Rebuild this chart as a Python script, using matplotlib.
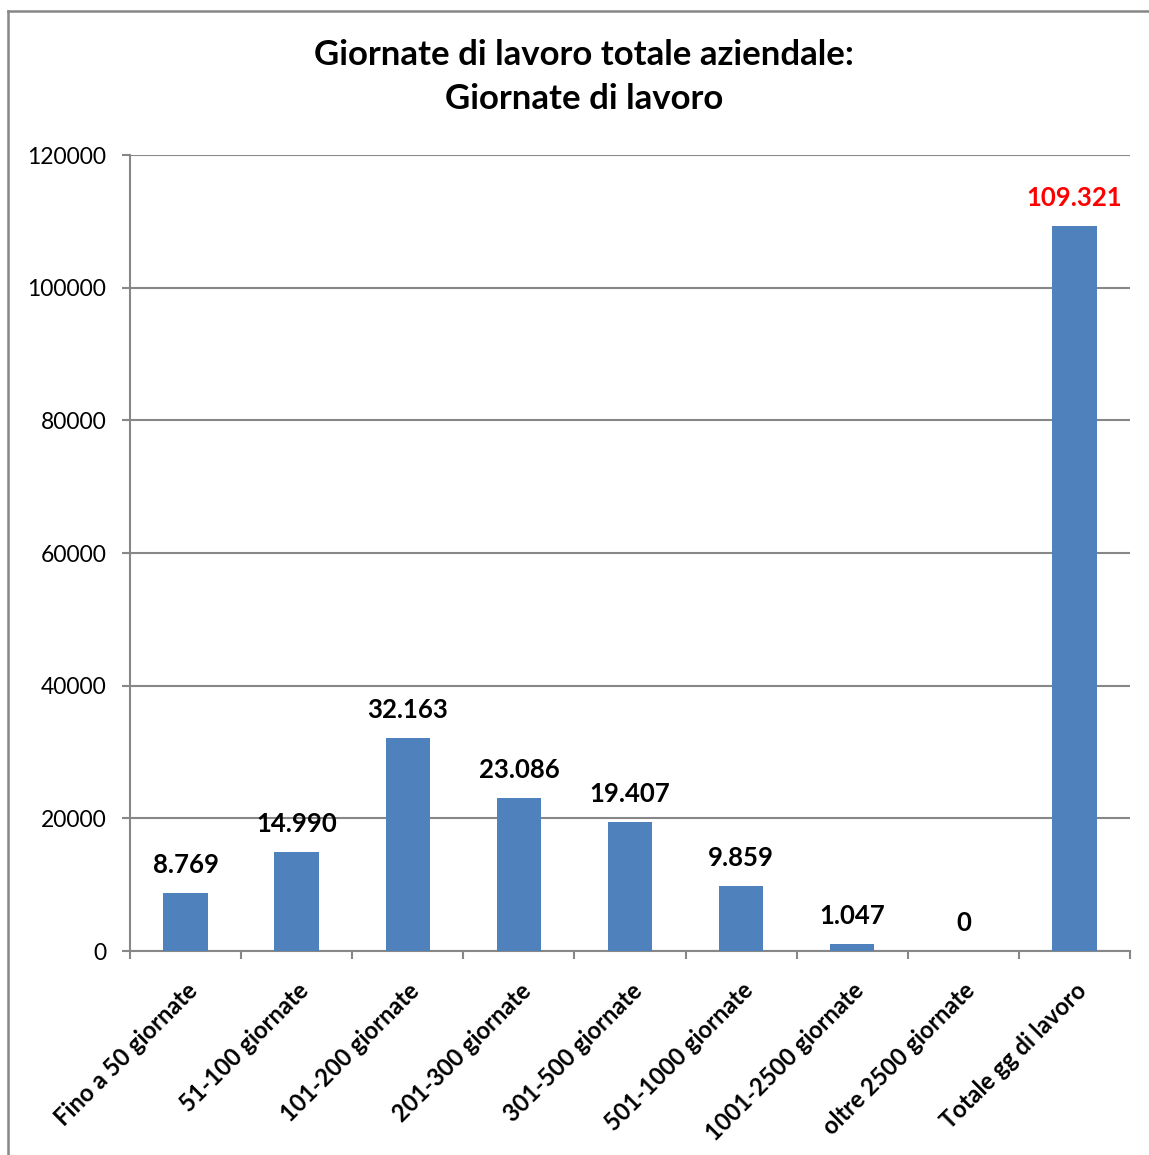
import matplotlib.pyplot as plt
from matplotlib.lines import Line2D
import numpy as np

categories = ["Fino a 50 giornate", "51-100 giornate", "101-200 giornate",
              "201-300 giornate", "301-500 giornate", "501-1000 giornate",
              "1001-2500 giornate", "oltre 2500 giornate", "Totale gg di lavoro"]
values = [8769, 14990, 32163, 23086, 19407, 9859, 1047, 0, 109321]
label_colors = ["black"] * 8 + ["#ff0000"]
yticks = [0, 20000, 40000, 60000, 80000, 100000, 120000]

plt.rcParams['font.family'] = ['Lato', 'DejaVu Sans']
grey = "#878787"

fig = plt.figure(figsize=(11.49, 11.55), dpi=100)
ax = fig.add_axes([130 / 1149, 1 - 951 / 1155, 1000 / 1149, 796 / 1155])

x = np.arange(len(categories))
bars = ax.bar(x, values, width=0.4, color="#4f81bd", zorder=3)

for xi, v, c in zip(x, values, label_colors):
    txt = f"{v:,}".replace(",", ".")
    ax.annotate(txt, (xi, v), xytext=(0, 20), textcoords="offset points",
                ha="center", va="center", fontsize=18.5, fontweight="bold", color=c)

ax.set_xlim(-0.5, len(categories) - 0.5)
ax.set_ylim(0, 120000)
ax.set_yticks(yticks)
ax.set_yticklabels([str(t) for t in yticks], fontsize=16.5)
ax.yaxis.grid(True, color=grey, linewidth=1.5, zorder=0)
ax.tick_params(axis="y", length=6, width=1.5, color=grey, pad=11)

ax.set_xticks(x)
ax.set_xticklabels(categories, rotation=45, ha="right", va="top",
                   rotation_mode="anchor", fontsize=17, fontweight="bold")
ax.set_xticks(np.arange(len(categories) + 1) - 0.5, minor=True)
ax.tick_params(axis="x", which="major", length=0, pad=20)
ax.tick_params(axis="x", which="minor", length=6, width=1.5, color=grey)

for side in ["top", "right"]:
    ax.spines[side].set_visible(False)
for side in ["left", "bottom"]:
    ax.spines[side].set_color(grey)
    ax.spines[side].set_linewidth(1.5)

fig.text(584 / 1149, 1 - 77 / 1155, "Giornate di lavoro totale aziendale:\nGiornate di lavoro",
         ha="center", va="center", fontsize=25, fontweight="bold", linespacing=1.45)

# chart frame
fx, fy = 8 / 1149, 1 - 11 / 1155
fig.add_artist(Line2D([fx, fx], [0, fy], color=grey, linewidth=1.8))
fig.add_artist(Line2D([fx, 1], [fy, fy], color=grey, linewidth=1.8))

fig.savefig("out.png", dpi=100)
